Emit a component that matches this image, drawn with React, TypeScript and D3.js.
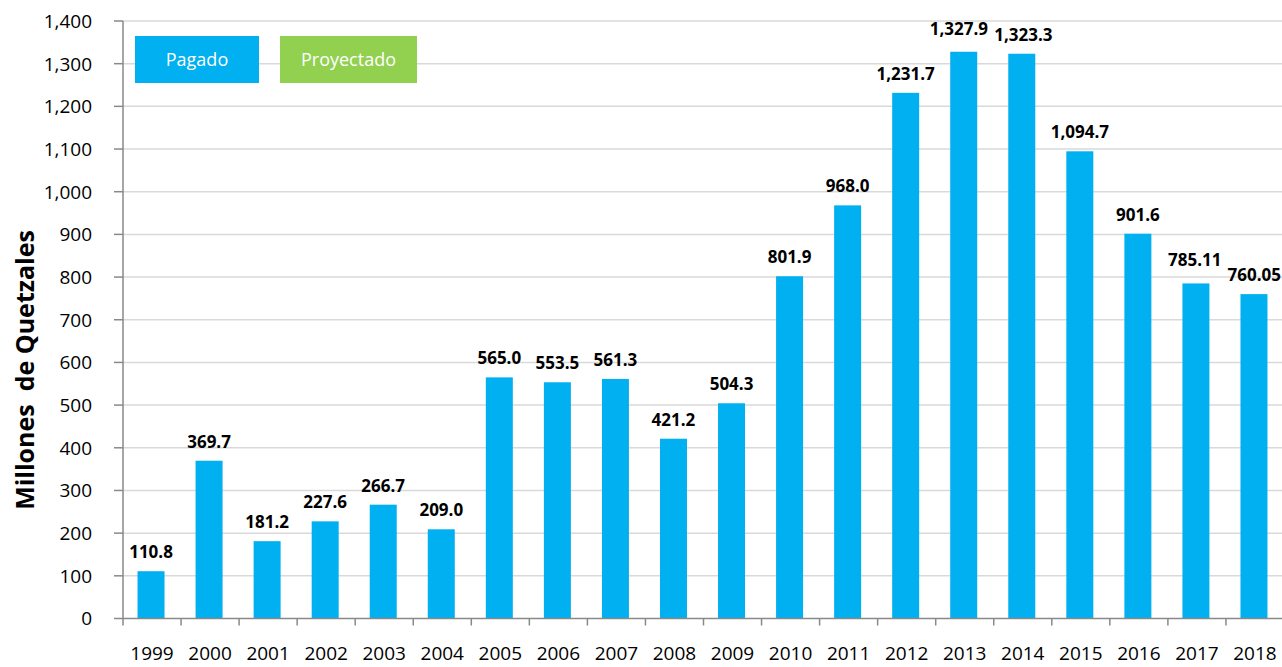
import React from "react";
import * as d3 from "d3";

const years = ["1999","2000","2001","2002","2003","2004","2005","2006","2007","2008","2009","2010","2011","2012","2013","2014","2015","2016","2017","2018"];
const pagado = [110.8,369.7,181.2,227.6,266.7,209.0,565.0,553.5,561.3,421.2,504.3,801.9,968.0,1231.7,1327.9,1323.3,1094.7,901.6,785.11,760.05];
const decimals = [1,1,1,1,1,1,1,1,1,1,1,1,1,1,1,1,1,1,2,2];
const yTicks = [0,100,200,300,400,500,600,700,800,900,1000,1100,1200,1300,1400];
const legendItems = ["Pagado","Proyectado"];
const yTitle = "Millones  de Quetzales";

const W = 1282, H = 667;
const left = 123, right = 1284, top = 21, bottom = 618.5;
const BLUE = "#00B0F0", GREEN = "#92D050";
const FONT = "'Open Sans', sans-serif";
const LABEL_SIZE = 17;

export default function App() {
  const x = d3.scaleBand<string>().domain(years).range([left, right]).paddingInner(0.535).paddingOuter(0.2675);
  const y = d3.scaleLinear().domain([0, 1400]).range([bottom, top]);
  const step = x.step();
  const fmt = (v: number, d: number) => d3.format(`,.${d}f`)(v);
  const legendBoxes = [
    { x: 135, w: 124, color: BLUE },
    { x: 280, w: 137, color: GREEN },
  ];

  // label layout with simple collision avoidance between neighbours
  const labels = years.map((yr, i) => {
    const text = fmt(pagado[i], decimals[i]);
    const w = Array.from(text).reduce((s, c) => s + (c === "," || c === "." ? 0.29 : 0.572), 0) * LABEL_SIZE;
    return { text, cx: x(yr)! - 1 + x.bandwidth() / 2, y: y(pagado[i]) - 13, w };
  });
  for (let i = 0; i < labels.length - 1; i++) {
    const a = labels[i], b = labels[i + 1];
    if (Math.abs(a.y - b.y) < 18) {
      const overlap = (a.cx + a.w / 2 + 6) - (b.cx - b.w / 2);
      if (overlap > 0) {
        a.cx -= overlap * 0.75;
        b.cx += overlap * 0.25;
        if (a.y <= b.y) a.y -= 4; else b.y -= 4;
      }
    }
  }

  return (
    <svg width={W} height={H} style={{ position: "absolute", left: 0, top: 0, display: "block", background: "#fff" }} fontFamily={FONT}>
      {yTicks.filter(t => t > 0).map(t => (
        <line key={"g" + t} x1={left} x2={W} y1={y(t)} y2={y(t)} stroke="#d9d9d9" strokeWidth={1.5} />
      ))}
      {yTicks.map(t => (
        <g key={"yt" + t}>
          <line x1={left - 9} x2={left} y1={y(t)} y2={y(t)} stroke="#898989" strokeWidth={1.5} />
          <text x={92} y={y(t)} dy="0.36em" textAnchor="end" fontSize={19} fill="#000">{d3.format(",")(t)}</text>
        </g>
      ))}
      {years.map((yr, i) => (
        <rect key={"b" + yr} x={x(yr)! - 1} y={y(pagado[i])} width={x.bandwidth()} height={bottom - y(pagado[i])} fill={BLUE} />
      ))}
      {labels.map((l, i) => (
        <text key={"l" + years[i]} x={l.cx} y={l.y} textAnchor="middle" fontSize={LABEL_SIZE} fontWeight="bold" fill="#000">
          {l.text}
        </text>
      ))}
      <line x1={left} x2={left} y1={top} y2={bottom} stroke="#898989" strokeWidth={1.5} />
      <line x1={left} x2={W} y1={bottom} y2={bottom} stroke="#898989" strokeWidth={1.5} />
      {years.map((yr, i) => (
        <line key={"xt" + yr} x1={left + i * step} x2={left + i * step} y1={bottom} y2={bottom + 7} stroke="#898989" strokeWidth={1.5} />
      ))}
      {years.map(yr => (
        <text key={"xl" + yr} x={x(yr)! + x.bandwidth() / 2} y={660} textAnchor="middle" fontSize={19} fill="#000">{yr}</text>
      ))}
      <text transform={`translate(33.5,370) rotate(-90)`} textAnchor="middle" fontSize={25} fontWeight="bold" fill="#000" style={{ whiteSpace: "pre" }}>{yTitle}</text>
      {legendItems.map((name, i) => (
        <g key={"lg" + name}>
          <rect x={legendBoxes[i].x} y={36} width={legendBoxes[i].w} height={47} fill={legendBoxes[i].color} />
          <text x={legendBoxes[i].x + legendBoxes[i].w / 2} y={59.5} dy="0.35em" textAnchor="middle" fontSize={18} fill="#fff">{name}</text>
        </g>
      ))}
    </svg>
  );
}
